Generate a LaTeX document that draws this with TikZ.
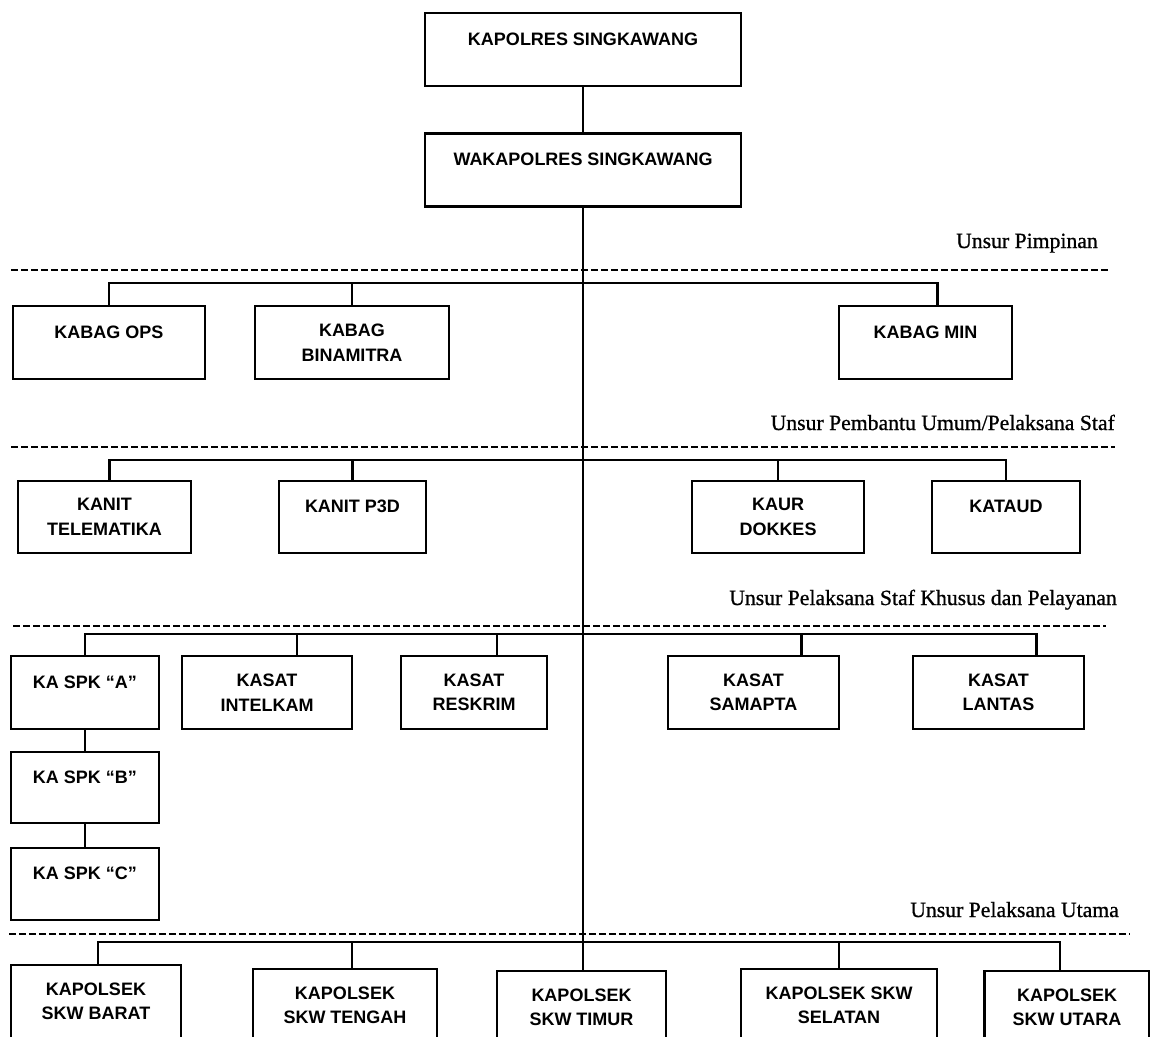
\documentclass[tikz,border=0pt]{standalone}
\usepackage{fontspec}
\setmainfont{Liberation Serif}[FakeBold=0.8]
\setsansfont{Liberation Sans}
\usepackage{tikz}

\newcommand{\boxfont}{\sffamily\bfseries\fontsize{18}{24.5}\selectfont}
\newcommand{\lblfont}{\rmfamily\fontsize{21.7}{24}\selectfont}

\begin{document}
\begin{tikzpicture}[x=1pt,y=-1pt,
    box/.style={draw,line width=2.8pt,minimum height=73pt,align=center,font=\boxfont,inner sep=0pt},
    single/.style={text depth=21pt},
    wire/.style={line width=2.2pt},
    sep/.style={line width=2.6pt,dash pattern=on 7pt off 3pt},
    lbl/.style={font=\lblfont,anchor=base east,inner sep=0pt}]
    \clip (0,0) rectangle (1150,1036);
    \fill[white] (0,0) rectangle (1150,1036);
    % pimpinan
    \node[box,single,minimum width=316pt] (kapolres) at (583,49.5) {KAPOLRES SINGKAWANG};
    \node[box,single,minimum width=316pt] (wakapolres) at (583,170) {WAKAPOLRES SINGKAWANG};
    \node[lbl] (l1) at (1098,248) {Unsur Pimpinan};
    \draw[sep] (11,270) -- (1111,270);
    % pembantu umum
    \node[box,single,minimum width=192pt] (ops) at (109,342.5) {KABAG OPS};
    \node[box,minimum width=194pt] (binamitra) at (352,342.5) {KABAG\\BINAMITRA};
    \node[box,single,minimum width=173pt] (min) at (925.5,342.5) {KABAG MIN};
    \node[lbl] (l2) at (1115,430) {Unsur Pembantu Umum/Pelaksana Staf};
    \draw[sep] (11,447) -- (1115,447);
    % staf khusus
    \node[box,minimum width=173pt,minimum height=72pt] (telematika) at (104.5,517) {KANIT\\TELEMATIKA};
    \node[box,single,minimum width=147pt,minimum height=72pt] (p3d) at (352.5,517) {KANIT P3D};
    \node[box,minimum width=172pt,minimum height=72pt] (dokkes) at (778,517) {KAUR\\DOKKES};
    \node[box,single,minimum width=148pt,minimum height=72pt] (kataud) at (1006,517) {KATAUD};
    \node[lbl] (l3) at (1117,605) {Unsur Pelaksana Staf Khusus dan Pelayanan};
    \draw[sep] (13,626) -- (1106,626);
    % pelaksana utama
    \node[box,single,minimum width=148pt] (spka) at (85,692.5) {KA SPK ``A''};
    \node[box,minimum width=170pt] (intelkam) at (267,692.5) {KASAT\\INTELKAM};
    \node[box,minimum width=146pt] (reskrim) at (474,692.5) {KASAT\\RESKRIM};
    \node[box,minimum width=171pt] (samapta) at (753.5,692.5) {KASAT\\SAMAPTA};
    \node[box,minimum width=171pt] (lantas) at (998.5,692.5) {KASAT\\LANTAS};
    \node[box,single,minimum width=148pt,minimum height=71pt] (spkb) at (85,787.5) {KA SPK ``B''};
    \node[box,single,minimum width=148pt,minimum height=72pt] (spkc) at (85,884) {KA SPK ``C''};
    \node[lbl] (l4) at (1119,917) {Unsur Pelaksana Utama};
    \draw[sep] (9,934) -- (1130,934);
    % kewilayahan
    \node[box,minimum width=170pt] (barat) at (96,1001.5) {KAPOLSEK\\SKW BARAT};
    \node[box,minimum width=184pt] (tengah) at (345,1005.5) {KAPOLSEK\\SKW TENGAH};
    \node[box,minimum width=169pt] (timur) at (581.5,1007.5) {KAPOLSEK\\SKW TIMUR};
    \node[box,minimum width=196pt] (selatan) at (839,1005.5) {KAPOLSEK SKW\\SELATAN};
    \node[box,minimum width=165pt] (utara) at (1067,1007.5) {KAPOLSEK\\SKW UTARA};
    % garis komando
    \coordinate (b1) at (583,283);
    \coordinate (b2) at (583,460);
    \coordinate (b3) at (583,634);
    \coordinate (b4) at (583,942);
    \draw[wire] (kapolres) -- (wakapolres);
    \draw[wire] (wakapolres.south) -- (wakapolres.south |- timur.north);
    \draw[wire] (ops.north) |- (b1) (binamitra.north) |- (b1) ([xshift=12pt]min.north) |- (b1);
    \draw[wire] ([xshift=5pt]telematika.north) |- (b2) (p3d.north) |- (b2)
        (dokkes.north) |- (b2) (kataud.north) |- (b2);
    \draw[wire] (spka.north) |- (b3) ([xshift=30pt]intelkam.north) |- (b3)
        ([xshift=23pt]reskrim.north) |- (b3) ([xshift=48pt]samapta.north) |- (b3)
        ([xshift=38pt]lantas.north) |- (b3);
    \draw[wire] (spka) -- (spkb) -- (spkc);
    \draw[wire] ([xshift=2pt]barat.north) |- (b4) ([xshift=7pt]tengah.north) |- (b4)
        (selatan.north) |- (b4) ([xshift=-7pt]utara.north) |- (b4);
\end{tikzpicture}
\end{document}
